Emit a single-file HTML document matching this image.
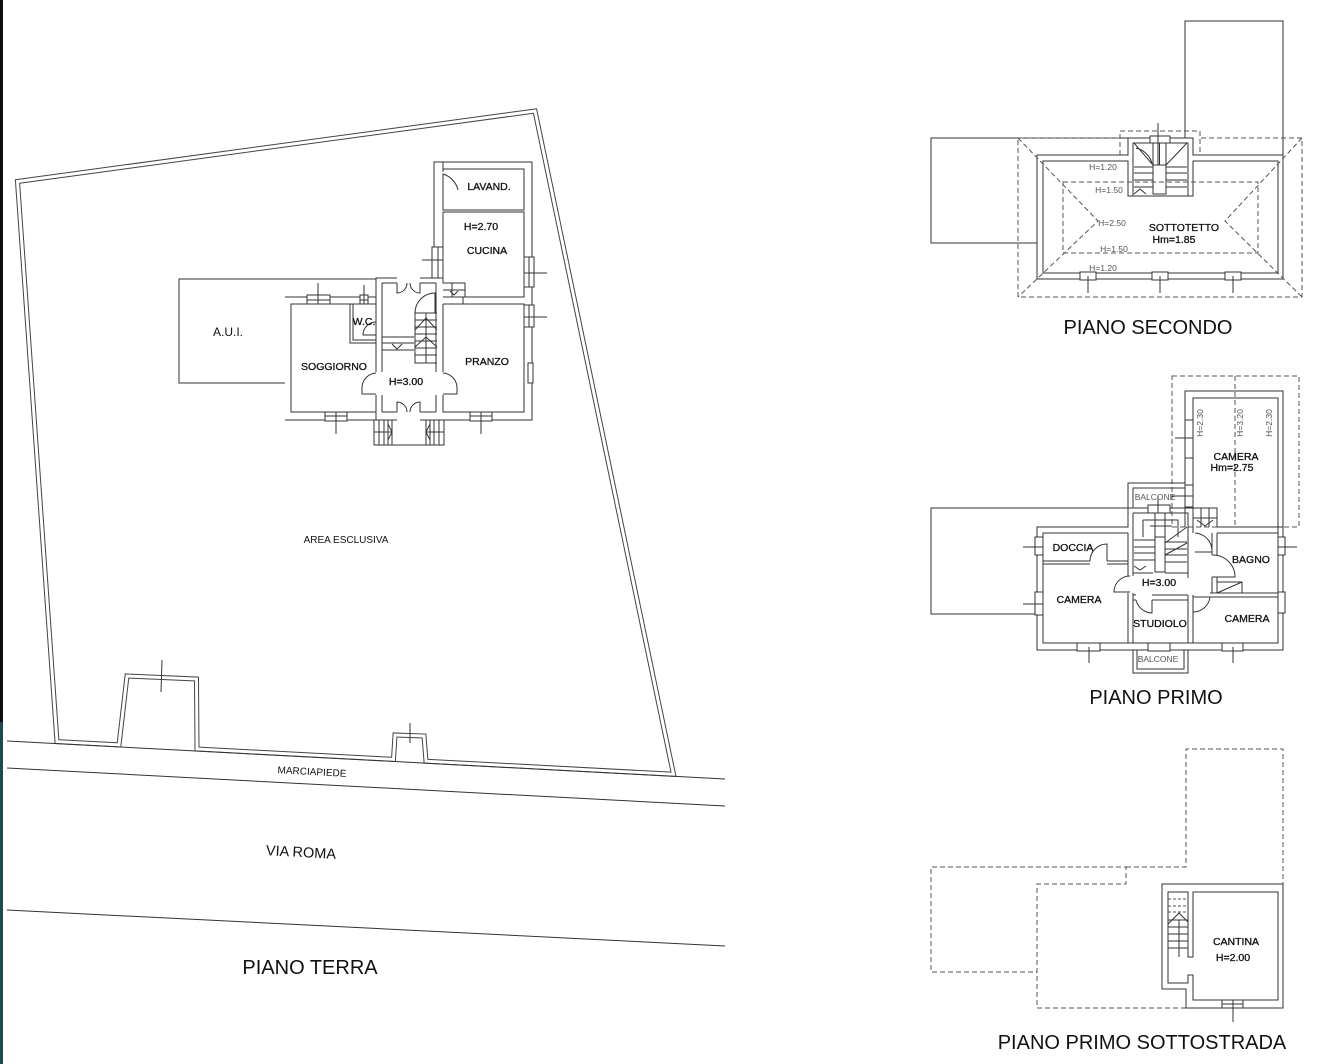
<!DOCTYPE html>
<html><head><meta charset="utf-8"><style>
html,body{margin:0;padding:0;background:#fff;}
svg{display:block;}
text{font-family:"Liberation Sans",Arial,sans-serif;fill:#111;}
.b{stroke:#111;stroke-width:0.3;}
.g{fill:#555;}
</style></head><body>
<svg width="1326" height="1064" viewBox="0 0 1326 1064" xmlns="http://www.w3.org/2000/svg">
<rect x="0" y="0" width="1326" height="1064" fill="#fff"/>
<rect x="0" y="0" width="3" height="722" fill="#0a0f10"/>
<rect x="0" y="722" width="3" height="342" fill="#1d4a4c"/>

<!-- ================= PIANO TERRA ================= -->
<g fill="none" stroke-linejoin="miter">
<path d="M17.5,181.5 L535,111 L673.5,774.3 L426,761.2 L424,736 L395,735 L393.5,759.4 L197,749 L196.5,679 L127,676 L119,744.9 L57,741.6 Z" stroke="#444" stroke-width="5"/>
<path d="M17.5,181.5 L535,111 L673.5,774.3 L426,761.2 L424,736 L395,735 L393.5,759.4 L197,749 L196.5,679 L127,676 L119,744.9 L57,741.6 Z" stroke="#fff" stroke-width="3"/>
</g>
<g stroke="#333" stroke-width="1" fill="none">
<line x1="7" y1="741" x2="725" y2="779"/>
<line x1="7" y1="768" x2="725" y2="806"/>
<line x1="7" y1="910" x2="725" y2="946"/>
<line x1="162" y1="660" x2="161" y2="692"/>
<line x1="410" y1="723" x2="410" y2="743"/>

<!-- AUI -->
<path d="M376,279 H179 V383 H285"/>
<!-- house outer -->
<path d="M285,297 H376 V278 H397 M420,278 H434 V162 H532 V420 H420 M397,420 H285 Z"/>
<!-- soggiorno inner -->
<path d="M376,304 H291 V412 H376"/>
<!-- WC -->
<path d="M350,304 V343 H376 M353,304 V340 H376"/>
<!-- hall walls -->
<path d="M376,297 V372 M376,395 V420"/>
<path d="M382,283 V372 M382,395 V412"/>
<path d="M382,283 H397 M420,283 H436"/>
<path d="M382,412 H397 M420,412 H436"/>
<path d="M436,283 V372 M436,395 V412"/>
<!-- right block inner -->
<path d="M443,162 V172 M443,196 V210 H524 V169 H443"/>
<path d="M434,172 V196"/>
<path d="M443,212 H524 V297 H463"/>
<path d="M443,212 V283"/>
<path d="M443,304 H524 V412 H443 V395 M443,372 V304"/>
<path d="M463,297 V304"/>
<!-- steps cucina/pranzo -->
<path d="M443,283 H465 V297 H443 M452,283 V297 M443,290 H465 M450,291 L454,295 L458,291"/>
<!-- lavand door -->
<path d="M443,196 L443,174 A22,22 0 0 1 458,190"/>
<!-- hall stair -->
<path d="M415,313 H437 M415,313 V363 H437 M426,313 V363"/>
<path d="M415,320 H437 M415,327 H437 M415,334 H437 M415,341 H437 M415,348 H437 M415,355 H437"/>
<path d="M415,330 L426,318 L437,330 M415,347 L426,337 L437,347"/>
<path d="M415,313 A20,20 0 0 1 435,293 L435,313"/>
<!-- hall steps -->
<path d="M382,337 H414 M382,350 H414 M382,343 H414 M392,344 L397,349 L402,344"/>
<!-- hall side doors -->
<path d="M376,373 A15,15 0 0 0 362,387 L362,394 L376,394"/>
<path d="M443,373 A15,15 0 0 1 457,387 L457,394 L443,394"/>
<!-- front door -->
<path d="M397,412 V402 A10,10 0 0 1 407,412 M420,412 V402 A10,10 0 0 0 410,412"/>
<!-- top hall door -->
<path d="M397,283 V293 A10,10 0 0 0 407,283 M420,283 V293 A10,10 0 0 1 410,283"/>
<!-- WC door -->
<path d="M376,322 A13,13 0 0 0 363,335 L376,335"/>
<!-- front steps -->
<path d="M374,420 V445 H444 V420 M392,420 V445 M426,420 V445"/>
<path d="M379,420 V445 M384,420 V445 M388,420 V445 M374,432 H392 M388,424 L392,432 L388,440"/>
<path d="M430,420 V445 M434,420 V445 M439,420 V445 M426,432 H444 M430,424 L426,432 L430,440"/>
</g>
<!-- windows ground -->
<g stroke="#333" stroke-width="1" fill="#fff">
<rect x="307" y="295" width="23" height="9"/>
<rect x="360" y="295" width="8" height="9"/>
<rect x="325" y="412" width="22" height="9"/>
<rect x="470" y="412" width="22" height="9"/>
<rect x="432" y="247" width="11" height="31"/>
<rect x="524" y="257" width="10" height="30"/>
<rect x="524" y="305" width="10" height="22"/>
<rect x="528" y="363" width="5" height="20"/>
</g>
<g stroke="#333" stroke-width="1" fill="none">
<path d="M307,300 H330 M318,283 V304 M360,300 H368 M364,285 V304"/>
<path d="M325,416 H347 M336,412 V434 M470,416 H492 M481,412 V434"/>
<path d="M438,247 V278 M422,260 H443 M529,257 V287 M524,273 H547 M529,305 V327 M524,317 H547"/>
</g>

<text class="b" x="489" y="190" font-size="10.5" text-anchor="middle">LAVAND.</text>
<text class="b" x="481" y="230" font-size="10.5" text-anchor="middle">H=2.70</text>
<text class="b" x="487" y="254" font-size="10.5" text-anchor="middle">CUCINA</text>
<text class="b" x="364" y="325" font-size="10.5" text-anchor="middle">W.C.</text>
<text x="228" y="336" font-size="12" text-anchor="middle">A.U.I.</text>
<text class="b" x="334" y="370" font-size="10.5" text-anchor="middle">SOGGIORNO</text>
<text class="b" x="487" y="365" font-size="10.5" text-anchor="middle">PRANZO</text>
<text class="b" x="406" y="385" font-size="10.5" text-anchor="middle">H=3.00</text>
<text x="346" y="543" font-size="10" text-anchor="middle">AREA ESCLUSIVA</text>
<text x="312" y="775" font-size="10" text-anchor="middle" transform="rotate(3 312 772)">MARCIAPIEDE</text>
<text x="301" y="857" font-size="14.5" text-anchor="middle" transform="rotate(3 301 852)">VIA ROMA</text>
<text x="310" y="974" font-size="20" text-anchor="middle">PIANO TERRA</text>

<!-- ================= PIANO SECONDO ================= -->
<g stroke="#333" stroke-width="1" fill="none">
<path d="M1185,138 V21 H1283 V155"/>
<path d="M1128,138 H931 V243 H1037"/>
<path d="M1037,155 H1128 V138 H1193 V155 H1283 V279 H1037 Z"/>
<path d="M1043,161 H1128 V196 H1193 V161 H1278 V273 H1043 Z"/>
<path d="M1133,196 V143 H1188 V196"/>
<path d="M1134,167 H1153 M1134,173 H1153 M1134,180 H1153 M1134,187 H1153 M1166,167 H1187 M1166,173 H1187 M1166,180 H1187 M1166,187 H1187"/>
<rect x="1153" y="165" width="13" height="29"/>
<path d="M1153,143 V165 M1166,143 V165 M1159.5,143 V165 M1134,143 L1153,165 M1187,143 L1166,165 M1136,148 A22,22 0 0 1 1152,163 M1134,194 L1140,189 L1146,194"/>
</g>
<g stroke="#333" stroke-width="1" fill="#fff">
<rect x="1150" y="136" width="20" height="7"/>
<rect x="1080" y="272" width="16" height="8"/>
<rect x="1152" y="272" width="16" height="8"/>
<rect x="1225" y="272" width="16" height="8"/>
</g>
<g stroke="#333" stroke-width="1" fill="none">
<path d="M1158,123 V165 M1088,276 V293 M1160,276 V293 M1233,276 V293"/>
</g>
<g stroke="#555" stroke-width="1" fill="none" stroke-dasharray="5,3">
<path d="M1120,155 V131 H1200 V155"/>
<path d="M1120,138 H1018 V297 H1302 V138 H1200"/>
<rect x="1063" y="182" width="195" height="71"/>
<path d="M1018,138 L1098,221 L1018,297 M1302,138 L1225,221 L1302,297"/>
</g>
<text class="g" x="1103" y="170" font-size="8.5" text-anchor="middle">H=1.20</text>
<text class="g" x="1109" y="193" font-size="8.5" text-anchor="middle">H=1.50</text>
<text class="g" x="1112" y="226" font-size="8.5" text-anchor="middle">H=2.50</text>
<text class="b" x="1184" y="231" font-size="10.5" text-anchor="middle">SOTTOTETTO</text>
<text class="b" x="1174" y="243" font-size="10.5" text-anchor="middle">Hm=1.85</text>
<text class="g" x="1114" y="252" font-size="8.5" text-anchor="middle">H=1.50</text>
<text class="g" x="1103" y="271" font-size="8.5" text-anchor="middle">H=1.20</text>
<text x="1148" y="334" font-size="20" text-anchor="middle">PIANO SECONDO</text>

<!-- ================= PIANO PRIMO ================= -->
<g stroke="#555" stroke-width="1" fill="none" stroke-dasharray="5,3">
<rect x="1172" y="376" width="127" height="151"/>
<path d="M1235,376 V527"/>
</g>
<g stroke="#333" stroke-width="1" fill="none">
<path d="M1185,527 V391 H1283 V527"/>
<path d="M1193,508 V398 H1278 V533"/>
<path d="M1128,508 H931 V614 H1037"/>
<path d="M1128,508 V483 H1185 M1133,508 V488 H1185"/>
<path d="M1037,527 H1128 V508 H1217 V527 H1283 V650 H1037 Z"/>
<path d="M1128,533 H1043 V643 H1278 V533 H1217"/>
<!-- stairs -->
<path d="M1133,513 H1188 V573 M1133,513 V573 H1153 M1165,573 H1188"/>
<rect x="1155" y="537" width="10" height="35"/>
<path d="M1134,540 H1155 M1134,547 H1155 M1134,553 H1155 M1134,560 H1155 M1165,542 H1187 M1165,549 H1187 M1165,555 H1187 M1165,562 H1187"/>
<path d="M1143,520 H1178 V537 M1143,520 V537 M1150,526 H1172 M1155,513 V537 M1165,513 V537 M1165,543 L1187,527 M1165,555 L1187,543 M1134,566 L1140,570 L1146,566"/>
<!-- steps right of stair -->
<path d="M1193,508 V527 M1193,518 H1217 M1201,508 V527 M1209,508 V527 M1197,520 L1205,526 L1213,520"/>
<!-- doccia wall -->
<path d="M1043,561 H1090 M1107,561 H1128 M1043,564 H1090 M1107,564 H1128 M1090,561 A17,17 0 0 1 1107,544 V561"/>
<!-- left rooms / hall wall -->
<path d="M1128,533 V576 M1128,593 V643 M1133,573 V576 M1133,593 V643"/>
<path d="M1130,576 A16,16 0 0 0 1114,592 H1130"/>
<!-- studiolo -->
<path d="M1133,595 H1136 M1152,595 H1188 M1133,600 H1136 M1152,600 H1188 M1152,600 V613 A17,17 0 0 1 1136,600"/>
<path d="M1188,573 V578 M1188,595 V643 M1193,527 V533 M1193,595 V643"/>
<!-- right side -->
<path d="M1195,533 A18,18 0 0 1 1212,552 H1195"/>
<path d="M1212,533 V555 M1217,533 V555 M1212,577 V593 M1217,577 V593"/>
<path d="M1212,555 A22,22 0 0 1 1235,577 H1212"/>
<path d="M1210,593 H1278 M1210,597 H1278 M1217,582 H1242 V593 M1217,593 L1242,582"/>
<path d="M1193,612 A17,17 0 0 0 1210,597 H1193"/>
<!-- balcone bottom -->
<path d="M1133,650 V673 H1188 V650 M1137,650 V669 H1184 V650"/>
</g>
<g stroke="#333" stroke-width="1" fill="#fff">
<rect x="1035" y="537" width="8" height="18"/>
<rect x="1035" y="592" width="8" height="23"/>
<rect x="1077" y="643" width="23" height="8"/>
<rect x="1148" y="643" width="22" height="8"/>
<rect x="1222" y="643" width="21" height="8"/>
<rect x="1278" y="537" width="7" height="18"/>
<rect x="1278" y="592" width="7" height="21"/>
<rect x="1185" y="420" width="8" height="38"/>
<rect x="1185" y="485" width="8" height="22"/>
<rect x="1148" y="505" width="22" height="8"/>
</g>
<g stroke="#333" stroke-width="1" fill="none">
<path d="M1023,547 H1043 M1023,604 H1043 M1089,647 V663 M1233,647 V663 M1278,547 H1297 M1175,438 H1193 M1158,496 V513 M1172,496 H1193"/>
</g>
<text class="g" font-size="8.5" text-anchor="middle" transform="translate(1203 423) rotate(-90)">H=2.30</text>
<text class="g" font-size="8.5" text-anchor="middle" transform="translate(1243 423) rotate(-90)">H=3.20</text>
<text class="g" font-size="8.5" text-anchor="middle" transform="translate(1272 423) rotate(-90)">H=2.30</text>
<text class="b" x="1236" y="460" font-size="10.5" text-anchor="middle">CAMERA</text>
<text class="b" x="1232" y="471" font-size="10.5" text-anchor="middle">Hm=2.75</text>
<text class="g" x="1155" y="500" font-size="8.5" text-anchor="middle">BALCONE</text>
<text class="b" x="1073" y="551" font-size="10.5" text-anchor="middle">DOCCIA</text>
<text class="b" x="1251" y="563" font-size="10.5" text-anchor="middle">BAGNO</text>
<text class="b" x="1159" y="586" font-size="10.5" text-anchor="middle">H=3.00</text>
<text class="b" x="1079" y="603" font-size="10.5" text-anchor="middle">CAMERA</text>
<text class="b" x="1247" y="622" font-size="10.5" text-anchor="middle">CAMERA</text>
<text class="b" x="1160" y="627" font-size="10.5" text-anchor="middle">STUDIOLO</text>
<text class="g" x="1158" y="662" font-size="8.5" text-anchor="middle">BALCONE</text>
<text x="1156" y="704" font-size="20" text-anchor="middle">PIANO PRIMO</text>

<!-- ================= PIANO PRIMO SOTTOSTRADA ================= -->
<g stroke="#555" stroke-width="1" fill="none" stroke-dasharray="5,3">
<path d="M1186,1008 H1037 V884 H1126 V867 H931 V972 H1037"/>
<path d="M1126,867 H1186 V749 H1283 V884"/>
</g>
<g stroke="#333" stroke-width="1" fill="none">
<path d="M1162,884 H1283 V1008 H1186 V989 H1162 Z"/>
<path d="M1168,892 H1188 V957 H1193 V892 H1278 V1000 H1193 V975 H1188 V983 H1168 Z"/>
<path d="M1168,920 H1188 M1168,927 H1188 M1168,934 H1188 M1168,941 H1188 M1168,948 H1188 M1179,920 V957 M1168,924 L1179,913 L1188,922"/>
</g>
<g stroke="#555" stroke-width="1" fill="none" stroke-dasharray="3,2">
<path d="M1168,899 H1188 M1168,906 H1188 M1168,912 H1188"/>
</g>
<g stroke="#333" stroke-width="1" fill="#fff">
<rect x="1222" y="1000" width="21" height="8"/>
</g>
<path d="M1222,1004 H1243 M1233,1000 V1022" stroke="#333" stroke-width="1" fill="none"/>
<text class="b" x="1236" y="945" font-size="10.5" text-anchor="middle">CANTINA</text>
<text class="b" x="1233" y="961" font-size="10.5" text-anchor="middle">H=2.00</text>
<text x="1142" y="1049" font-size="20" text-anchor="middle">PIANO PRIMO SOTTOSTRADA</text>
</svg>
</body></html>
